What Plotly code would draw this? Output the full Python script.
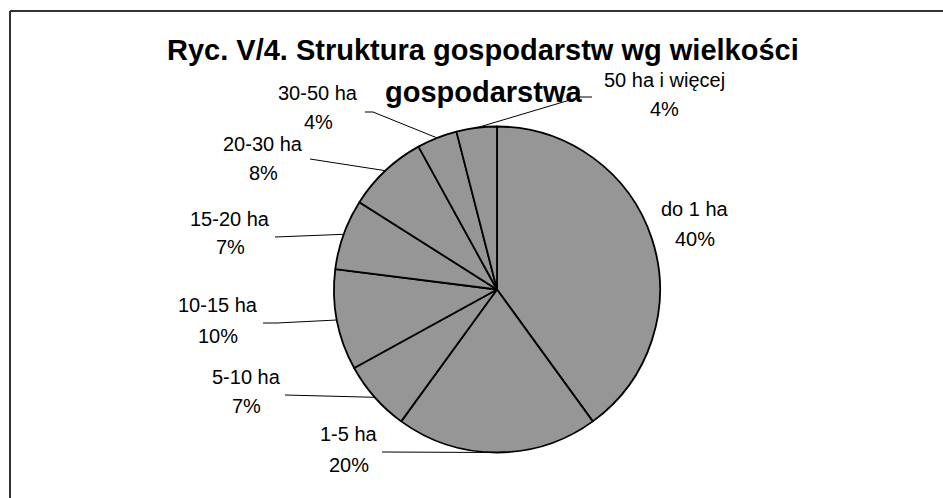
import math
import plotly.graph_objects as go

# ---- data ----
categories = ["do 1 ha", "1-5 ha", "5-10 ha", "10-15 ha", "15-20 ha",
              "20-30 ha", "30-50 ha", "50 ha i więcej"]
shares = [40, 20, 7, 10, 7, 8, 4, 4]
title_line1 = "Ryc. V/4. Struktura gospodarstw wg wielkości"
title_line2 = "gospodarstwa"

# ---- layout (pixel geometry) ----
W, H = 943, 498
CX, CY, R = 497, 289.5, 163
# label centre x, first-line y, second-line y
label_pos = [(695, 210, 240), (349, 435, 466), (246, 378, 407), (218, 306, 337),
             (230, 220, 248), (263, 145, 174), (318, 94, 123), (664, 81, 110)]
# leader start point(s) near the label (None = no leader)
leader_pts = [None, [(382, 452)], [(285, 395)], [(263, 323), (277, 323)],
              [(275, 237)], [(310, 159)], [(365, 112), (373, 112)],
              [(592, 97), (580, 97)]]

FONT = "Liberation Sans, Arial, sans-serif"

fig = go.Figure()
fig.add_trace(go.Pie(
    labels=categories, values=shares, sort=False, direction="clockwise",
    rotation=0, textinfo="none", hoverinfo="label+percent",
    marker=dict(colors=["#969696"] * len(shares), line=dict(color="black", width=1.8)),
    domain=dict(x=[(CX - R) / W, (CX + R) / W], y=[1 - (CY + R) / H, 1 - (CY - R) / H]),
    showlegend=False,
))
# invisible pixel axes for overlays
fig.add_trace(go.Scatter(x=[0], y=[0], mode="markers", marker=dict(opacity=0),
                         hoverinfo="skip", showlegend=False))

shapes = []
annotations = []
total = sum(shares)
cum = 0
for cat, v, lp, pts in zip(categories, shares, label_pos, leader_pts):
    mid = 2 * math.pi * (cum + v / 2) / total
    cum += v
    ex, ey = CX + R * math.sin(mid), CY - R * math.cos(mid)
    if pts:
        path_pts = pts + [(ex, ey)]
        d = "M " + " L ".join(f"{x:.1f},{y:.1f}" for x, y in path_pts)
        shapes.append(dict(type="path", path=d, xref="x", yref="y",
                           line=dict(color="black", width=1)))
    x, y1, y2 = lp
    annotations.append(dict(x=x, y=y1 - 1, xref="x", yref="y", text=cat, showarrow=False,
                            font=dict(family=FONT, size=20, color="black"),
                            xanchor="center", yanchor="middle"))
    annotations.append(dict(x=x, y=y2 - 1, xref="x", yref="y", text=f"{v}%", showarrow=False,
                            font=dict(family=FONT, size=20, color="black"),
                            xanchor="center", yanchor="middle"))

annotations.append(dict(x=483, y=50, xref="x", yref="y", text=f"<b>{title_line1}</b>",
                        showarrow=False, font=dict(family=FONT, size=29, color="black"),
                        xanchor="center", yanchor="middle"))
annotations.append(dict(x=483, y=92, xref="x", yref="y", text=f"<b>{title_line2}</b>",
                        showarrow=False, font=dict(family=FONT, size=29, color="black"),
                        xanchor="center", yanchor="middle"))

# frame (top and left edges)
shapes.append(dict(type="line", x0=10, y0=11, x1=W, y1=11, xref="x", yref="y",
                   line=dict(color="#333333", width=2)))
shapes.append(dict(type="line", x0=10, y0=11, x1=10, y1=H, xref="x", yref="y",
                   line=dict(color="#333333", width=2)))

fig.update_layout(
    width=W, height=H, margin=dict(l=0, r=0, t=0, b=0),
    paper_bgcolor="white", plot_bgcolor="rgba(0,0,0,0)",
    xaxis=dict(range=[0, W], visible=False, fixedrange=True),
    yaxis=dict(range=[H, 0], visible=False, fixedrange=True),
    shapes=shapes, annotations=annotations,
)
fig.write_html("out.html", config={"displayModeBar": False},
               post_script="document.body.style.margin='0';document.body.style.overflow='hidden';")
